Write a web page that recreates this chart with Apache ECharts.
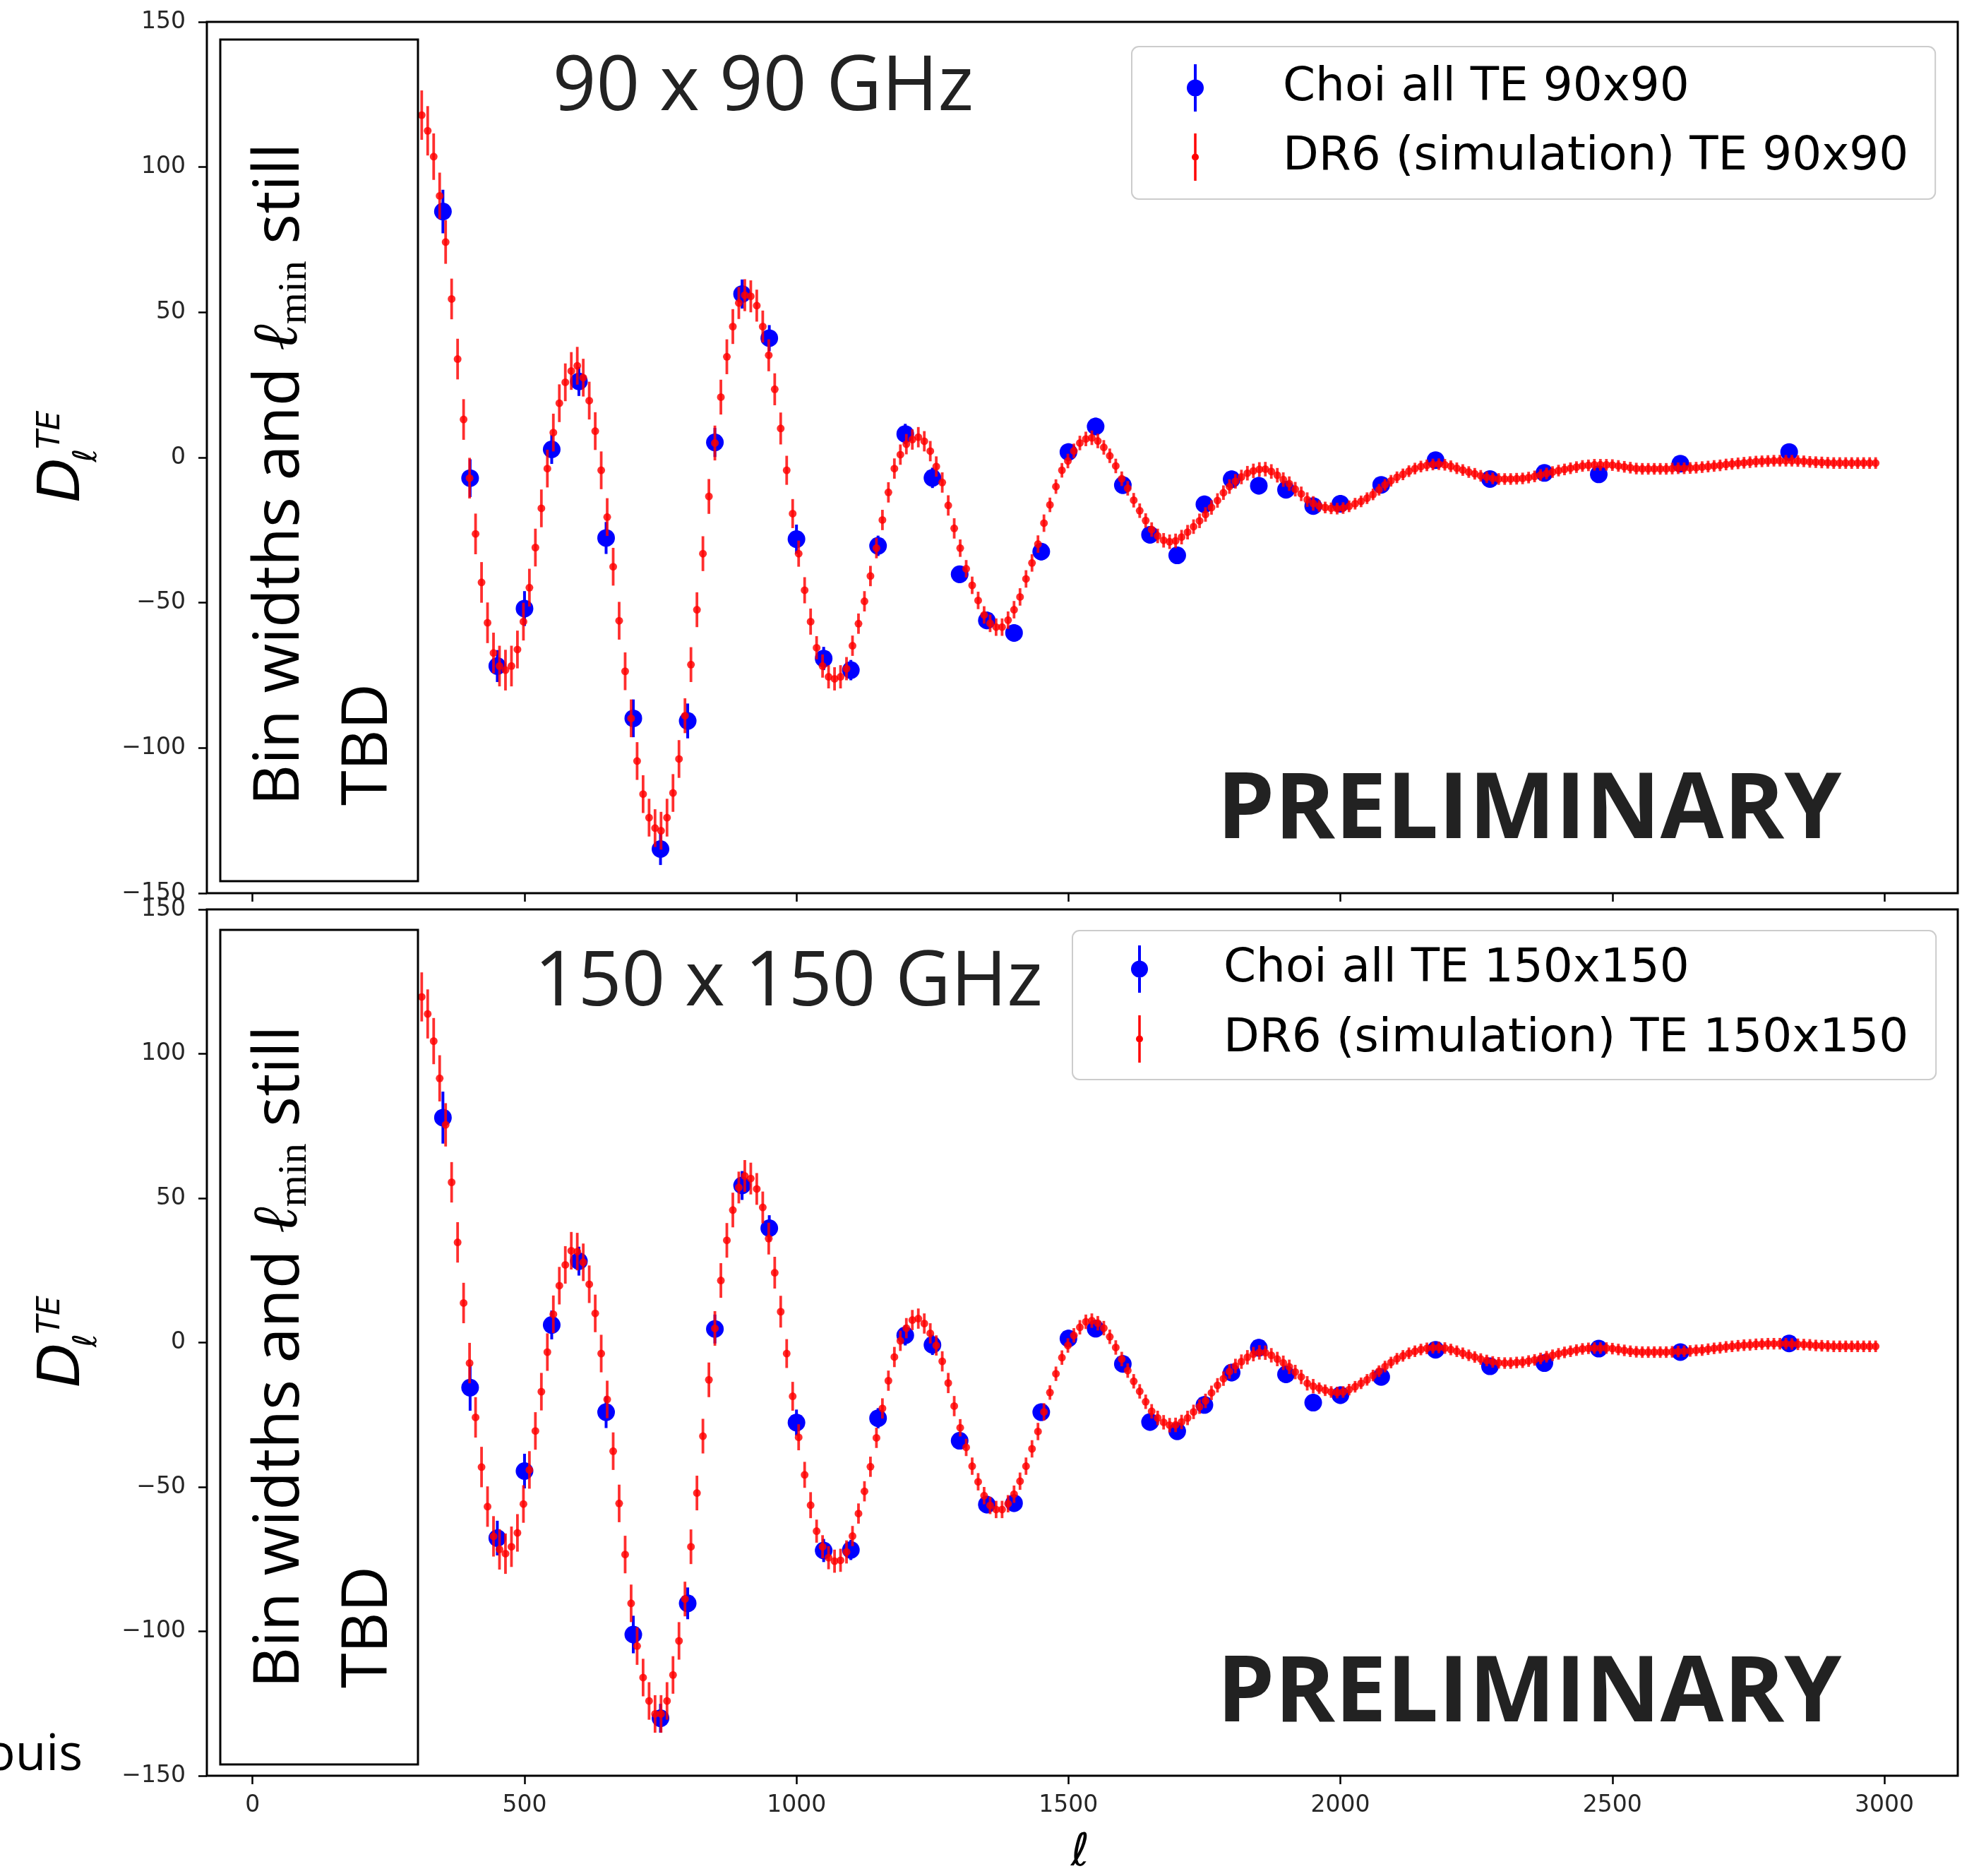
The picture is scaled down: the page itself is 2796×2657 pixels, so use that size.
<!DOCTYPE html>
<html><head><meta charset="utf-8">
<script src="https://cdn.jsdelivr.net/npm/echarts@6.0.0/dist/echarts.min.js"></script>
<style>html,body{margin:0;padding:0;background:#fff}#c{width:2796px;height:2657px}</style>
</head><body><div id="c"></div><script>
// ---------------- DATA ----------------
const xTickValues = [0, 500, 1000, 1500, 2000, 2500, 3000];
const panelTitles = ['90 x 90 GHz', '150 x 150 GHz'];
const legendNames90 = ['Choi all TE 90x90', 'DR6 (simulation) TE 90x90'];
const legendNames150 = ['Choi all TE 150x150', 'DR6 (simulation) TE 150x150'];

// Choi (blue) points: [ell, D_ell, error]
const choi90 = [
 [350,84.7,7.5],[400,-7.1,6.5],[450,-71.8,5.5],[500,-52.0,6],[550,2.8,5],[600,26.2,5],[650,-27.7,5.5],
 [700,-89.8,6.5],[750,-134.8,5.5],[800,-90.7,6],[850,5.2,5],[900,56.3,5],[950,41.1,4.5],[1000,-28.1,5],
 [1050,-69.2,4],[1100,-73.2,3.5],[1150,-30.4,3.5],[1200,8.1,3.5],[1250,-7.0,3.5],[1300,-40.2,3],[1350,-56.1,3],
 [1400,-60.4,3],[1450,-32.4,3],[1500,1.9,3],[1550,10.7,3],[1600,-9.5,3],[1650,-26.6,3],[1700,-33.7,3],
 [1750,-16.1,3],[1800,-7.5,3],[1850,-9.7,3],[1900,-11.1,3],[1950,-16.7,3],[2000,-15.9,3],
 [2075,-9.4,2.5],[2175,-0.9,2.5],[2275,-7.4,2.5],[2375,-5.3,2.5],[2475,-5.8,2.5],[2625,-2.1,2.5],[2825,1.9,2.5]
];
const choi150 = [
 [350,77.9,9],[400,-15.6,8],[450,-67.7,6],[500,-44.5,6],[550,6.1,5],[600,28.2,5],[650,-24.1,5.5],
 [700,-101.1,6.5],[750,-130.1,5],[800,-90.3,5.5],[850,4.7,5],[900,54.4,5],[950,39.6,4.5],[1000,-27.7,4.5],
 [1050,-72.0,4],[1100,-71.8,3.5],[1150,-26.2,3.5],[1200,2.5,3.5],[1250,-0.8,3.5],[1300,-34.0,3],[1350,-56.1,3],
 [1400,-55.6,3],[1450,-24.1,3],[1500,1.4,3],[1550,4.8,3],[1600,-7.4,3],[1650,-27.5,3],[1700,-30.7,3],
 [1750,-21.6,3],[1800,-10.4,3],[1850,-1.8,3],[1900,-11.0,3],[1950,-20.8,3],[2000,-18.2,3],
 [2075,-11.9,2.5],[2175,-2.5,2.5],[2275,-8.2,2.5],[2375,-7.1,2.5],[2475,-2.1,2.5],[2625,-3.3,2.5],[2825,-0.3,2.5]
];

// DR6 simulation (red) bins
const dr6Ell = [
 311,322,333,344,355,366,377,388,399,410,
 421,432,443,454,465,476,487,498,509,520,
 531,542,553,564,575,586,597,608,619,630,
 641,652,663,674,685,696,707,718,729,740,
 751,762,773,784,795,806,817,828,839,850,
 861,872,883,894,905,916,927,938,949,960,
 971,982,993,1004,1015,1026,1037,1048,1059,1070,
 1081,1092,1103,1114,1125,1136,1147,1158,1169,1180,
 1191,1202,1213,1224,1235,1246,1257,1268,1279,1290,
 1301,1312,1323,1334,1345,1356,1367,1378,1389,1400,
 1411,1422,1433,1444,1455,1466,1477,1488,1499,1510,
 1521,1532,1543,1554,1565,1576,1587,1598,1609,1620,
 1631,1642,1653,1664,1675,1686,1697,1708,1719,1730,
 1741,1752,1763,1774,1785,1796,1807,1818,1829,1840,
 1851,1862,1873,1884,1895,1906,1917,1928,1939,1950,
 1961,1972,1983,1994,2005,2016,2027,2038,2049,2060,
 2071,2082,2093,2104,2115,2126,2137,2148,2159,2170,
 2181,2192,2203,2214,2225,2236,2247,2258,2269,2280,
 2291,2302,2313,2324,2335,2346,2357,2368,2379,2390,
 2401,2412,2423,2434,2445,2456,2467,2478,2489,2500,
 2511,2522,2533,2544,2555,2566,2577,2588,2599,2610,
 2621,2632,2643,2654,2665,2676,2687,2698,2709,2720,
 2731,2742,2753,2764,2775,2786,2797,2808,2819,2830,
 2841,2852,2863,2874,2885,2896,2907,2918,2929,2940,
 2951,2962,2973,2984
];
const dr6Val90 = [
 117.9,112.5,103.6,90.1,74.2,54.6,33.9,13.1,-7.1,-26.3,
 -43.0,-56.9,-67.3,-71.8,-73.2,-71.8,-66.1,-56.5,-44.8,-31.0,
 -17.5,-3.8,8.6,18.7,25.9,29.8,31.6,27.5,19.6,9.1,
 -4.4,-20.5,-37.6,-56.2,-73.6,-89.8,-104.5,-115.9,-124.0,-127.6,
 -128.5,-124.0,-115.5,-103.8,-88.9,-71.3,-52.4,-33.1,-13.4,5.0,
 20.8,34.7,45.1,53.2,55.9,55.5,52.3,45.1,35.2,23.5,
 10.0,-4.4,-19.3,-33.1,-45.7,-56.5,-65.5,-71.8,-75.5,-76.2,
 -75.5,-72.7,-64.8,-57.2,-49.5,-40.8,-31.2,-21.5,-12.0,-3.8,
 1.0,4.6,6.2,7.0,5.6,2.2,-3.1,-8.6,-16.5,-24.4,
 -31.2,-38.3,-44.0,-49.2,-54.2,-57.1,-58.4,-58.4,-56.0,-52.4,
 -48.0,-41.8,-36.3,-29.8,-22.6,-16.3,-10.0,-4.4,-1.2,2.3,
 5.0,6.4,6.8,5.7,3.5,0.6,-2.9,-7.3,-10.6,-14.7,
 -18.3,-21.7,-24.8,-27.0,-28.5,-29.0,-28.7,-27.4,-25.7,-23.8,
 -21.8,-19.6,-17.2,-14.8,-12.1,-10.0,-8.2,-6.7,-5.4,-4.6,
 -4.1,-4.0,-4.8,-6.1,-7.6,-9.0,-10.9,-12.5,-14.5,-15.8,
 -16.7,-17.2,-17.5,-17.6,-17.4,-16.8,-15.9,-15.1,-14.0,-12.7,
 -11.1,-9.4,-8.0,-6.8,-5.8,-4.7,-3.8,-3.1,-2.7,-2.4,
 -2.3,-2.5,-3.0,-3.7,-4.3,-5.0,-5.6,-6.3,-6.8,-7.2,
 -7.4,-7.4,-7.4,-7.3,-7.2,-6.9,-6.5,-6.0,-5.5,-5.0,
 -4.5,-4.1,-3.7,-3.3,-2.9,-2.7,-2.5,-2.5,-2.5,-2.6,
 -2.9,-3.2,-3.5,-3.8,-3.9,-3.9,-3.9,-3.9,-3.9,-3.8,
 -3.7,-3.7,-3.6,-3.5,-3.3,-3.1,-2.9,-2.7,-2.4,-2.2,
 -2.0,-1.8,-1.6,-1.4,-1.3,-1.2,-1.1,-1.1,-1.1,-1.1,
 -1.2,-1.3,-1.5,-1.6,-1.7,-1.8,-1.9,-1.9,-1.9,-1.9,
 -1.9,-1.9,-1.9,-1.9
];
const dr6Val150 = [
 119.7,113.8,104.4,91.5,75.4,55.5,34.7,13.7,-7.1,-25.9,
 -43.1,-56.8,-67.1,-71.6,-73.1,-70.7,-65.9,-55.9,-44.1,-30.6,
 -17.0,-3.3,9.8,19.7,26.9,31.8,31.5,27.8,20.2,10.1,
 -3.8,-19.7,-37.6,-55.7,-73.4,-90.3,-105.1,-116.0,-124.1,-128.6,
 -128.6,-124.1,-115.1,-103.3,-88.8,-70.7,-52.1,-32.4,-12.9,4.9,
 21.5,35.4,45.9,53.7,57.7,56.8,53.2,46.8,36.0,24.2,
 10.7,-3.8,-18.6,-32.8,-45.8,-56.3,-65.3,-70.7,-74.5,-75.7,
 -75.4,-72.5,-67.0,-59.2,-51.5,-43.0,-33.0,-22.8,-13.2,-5.0,
 0.6,5.0,7.8,8.3,6.6,3.2,-1.0,-6.5,-14.0,-22.0,
 -29.5,-36.3,-42.8,-48.2,-53.0,-56.4,-57.8,-57.8,-55.8,-52.5,
 -48.0,-42.8,-36.8,-30.8,-24.0,-17.3,-10.8,-5.2,-1.0,2.5,
 5.3,7.2,7.6,6.7,5.0,2.0,-1.7,-5.7,-9.7,-13.4,
 -16.9,-20.5,-23.8,-26.1,-27.6,-28.6,-28.5,-27.5,-26.1,-24.0,
 -22.2,-20.2,-17.4,-14.8,-12.5,-10.0,-8.1,-6.6,-5.1,-4.0,
 -3.4,-3.5,-4.4,-5.7,-7.0,-8.4,-10.2,-11.9,-14.1,-15.1,
 -15.8,-16.5,-17.1,-17.3,-17.1,-16.3,-15.3,-14.1,-12.9,-11.4,
 -9.9,-8.3,-6.9,-5.6,-4.6,-3.7,-3.0,-2.4,-2.0,-1.8,
 -1.7,-1.9,-2.4,-3.0,-3.7,-4.4,-5.0,-5.7,-6.2,-6.7,
 -7.0,-7.1,-7.1,-6.9,-6.8,-6.4,-6.0,-5.5,-4.9,-4.4,
 -3.9,-3.4,-3.0,-2.6,-2.2,-2.0,-1.9,-1.9,-1.9,-2.1,
 -2.4,-2.7,-3.0,-3.2,-3.3,-3.3,-3.3,-3.3,-3.3,-3.2,
 -3.1,-3.0,-2.9,-2.7,-2.6,-2.3,-2.0,-1.8,-1.5,-1.3,
 -1.1,-0.9,-0.8,-0.6,-0.5,-0.4,-0.4,-0.4,-0.4,-0.5,
 -0.6,-0.7,-0.8,-1.0,-1.1,-1.2,-1.3,-1.3,-1.3,-1.3,
 -1.3,-1.3,-1.3,-1.3
];
const dr6Err = [
 8.5,8.5,8.0,8.0,7.5,7.0,7.0,7.0,7.0,7.0,
 7.0,7.0,7.0,7.0,7.0,7.0,6.5,6.5,6.5,6.5,
 6.5,6.5,6.5,6.5,6.5,6.5,6.5,6.5,6.5,6.5,
 6.5,6.5,6.5,6.5,6.5,6.5,6.5,6.5,6.5,6.5,
 6.5,6.5,6.5,6.5,6.0,6.0,6.0,6.0,6.0,6.0,
 6.0,6.0,6.0,5.5,5.5,5.5,5.5,5.5,5.5,5.5,
 5.5,5.0,5.0,4.5,4.5,4.5,4.0,4.0,4.0,4.0,
 4.0,4.0,3.5,3.5,3.5,3.5,3.5,3.5,3.5,3.5,
 3.5,3.5,3.5,3.5,3.5,3.5,3.5,3.5,3.5,3.5,
 3.0,3.0,3.0,3.0,3.0,3.0,3.0,3.0,3.0,3.0,
 3.0,3.0,3.0,3.0,3.0,2.5,2.5,2.5,2.5,2.5,
 2.5,2.5,2.5,2.5,2.5,2.5,2.5,2.5,2.5,2.5,
 2.5,2.5,2.5,2.5,2.5,2.5,2.5,2.5,2.5,2.5,
 2.5,2.5,2.5,2.5,2.5,2.5,2.5,2.5,2.5,2.5,
 2.5,2.5,2.5,2.5,2.5,2.5,2.5,2.5,2.5,2.5,
 2.0,2.0,2.0,2.0,2.0,2.0,2.0,2.0,2.0,2.0,
 2.0,2.0,2.0,2.0,2.0,2.0,2.0,2.0,2.0,2.0,
 2.0,2.0,2.0,2.0,2.0,2.0,2.0,2.0,2.0,2.0,
 2.0,2.0,2.0,2.0,2.0,2.0,2.0,2.0,2.0,2.0,
 2.0,2.0,2.0,2.0,2.0,2.0,2.0,2.0,2.0,2.0,
 2.0,2.0,2.0,2.0,2.0,2.0,2.0,2.0,2.0,2.0,
 2.0,2.0,2.0,2.0,2.0,2.0,2.0,2.0,2.0,2.0,
 2.0,2.0,2.0,2.0,2.0,2.0,2.0,2.0,2.0,2.0,
 2.0,2.0,2.0,2.0,2.0,2.0,2.0,2.0,2.0,2.0,
 2.0,2.0,2.0,2.0
];

// ---------------- CHART ----------------
const BLUE = '#0000ff';
const RED = 'rgba(255,0,0,0.82)';
const BLUE_ICON = 'path://M10,0 H14 V22 H10 Z M10,45 H14 V67 H10 Z M0,33.5 A12,12 0 1,1 24,33.5 A12,12 0 1,1 0,33.5 Z';
const RED_ICON = 'path://M7,33.5 A5,5 0 1,1 17,33.5 A5,5 0 1,1 7,33.5 Z M10.25,0 H13.75 V29 H10.25 Z M10.25,38 H13.75 V67 H10.25 Z';

const dr6Data90 = dr6Ell.map((l, i) => [l, dr6Val90[i], dr6Err[i]]);
const dr6Data150 = dr6Ell.map((l, i) => [l, dr6Val150[i], dr6Err[i]]);

function errSeries(name, data, idx, color, lw, r, z) {
  return {
    type: 'custom', name, xAxisIndex: idx, yAxisIndex: idx, data, z, silent: true,
    itemStyle: { color }, encode: { x: 0, y: 1 },
    renderItem: (params, api) => {
      const x = api.value(0), y = api.value(1), e = api.value(2);
      const p = api.coord([x, y]);
      const hi = api.coord([x, y + e]);
      const lo = api.coord([x, y - e]);
      return { type: 'group', children: [
        { type: 'line', shape: { x1: p[0], y1: hi[1], x2: p[0], y2: lo[1] }, style: { stroke: color, lineWidth: lw } },
        { type: 'circle', shape: { cx: p[0], cy: p[1], r }, style: { fill: color } }
      ]};
    }
  };
}

const tickFont = { fontFamily: 'DejaVu Sans', fontSize: 33, color: '#262626' };
function xAxisCfg(i) {
  return {
    type: 'value', gridIndex: i, min: -84, max: 3135,
    axisLine: { show: false, onZero: false }, splitLine: { show: false },
    axisTick: { show: true, length: 12, customValues: xTickValues, lineStyle: { color: '#000', width: 2.5 } },
    axisLabel: Object.assign({ show: i === 1, customValues: xTickValues, margin: 26, formatter: v => String(v) }, tickFont)
  };
}
function yAxisCfg(i) {
  return {
    type: 'value', gridIndex: i, min: -150, max: 150, interval: 50,
    axisLine: { show: false, onZero: false }, splitLine: { show: false },
    axisTick: { show: true, length: 12, lineStyle: { color: '#000', width: 2.5 } },
    axisLabel: Object.assign({ margin: 30, formatter: v => String(v).replace('-', '\u2212') }, tickFont)
  };
}
function legendCfg(names, left, top, padding, gap, fontSize, textPad) {
  return {
    orient: 'vertical', left, top, padding, itemGap: gap, itemWidth: 24, itemHeight: 67,
    backgroundColor: 'rgba(255,255,255,0.8)', borderColor: '#cccccc', borderWidth: 2, borderRadius: 10,
    selectedMode: false, symbolKeepAspect: true,
    textStyle: { fontFamily: 'DejaVu Sans', fontSize, color: '#000', lineHeight: 67, padding: [0, 0, 0, textPad] },
    data: [
      { name: names[0], icon: BLUE_ICON, itemStyle: { color: BLUE } },
      { name: names[1], icon: RED_ICON, itemStyle: { color: '#ff0000' } }
    ]
  };
}

const PI2 = Math.PI / 2;
function yLabel(dy) {
  return [
    { type: 'text', x: 91, y: 680 + dy, rotation: PI2, style: { text: 'D', font: 'italic 82px "DejaVu Sans"', fill: '#000', align: 'center', verticalAlign: 'middle' } },
    { type: 'text', x: 73, y: 609 + dy, rotation: PI2, style: { text: 'TE', font: 'italic 44px "DejaVu Sans"', fill: '#000', align: 'center', verticalAlign: 'middle' } },
    { type: 'text', x: 124, y: 645 + dy, rotation: PI2, style: { text: '\u2113', font: 'italic 46px "DejaVu Sans"', fill: '#000', align: 'center', verticalAlign: 'middle' } }
  ];
}
function noteBox(y, h, textY) {
  return [
    { type: 'rect', shape: { x: 312, y, width: 280, height: h }, style: { fill: '#fff', stroke: '#000', lineWidth: 3 }, z: 50 },
    { type: 'group', x: 0, y: textY, rotation: PI2, z: 51, children: [
      { type: 'text', x: 0, y: 397, z: 51, style: {
        text: '{a|Bin widths and }{l|\u2113}{s|min}{a| still}', align: 'left', verticalAlign: 'middle',
        rich: {
          a: { font: '400 90px "Open Sans"', fill: '#000', lineHeight: 100, verticalAlign: 'middle' },
          l: { font: 'italic 90px "DejaVu Serif"', fill: '#000', lineHeight: 100, verticalAlign: 'middle' },
          s: { font: '400 58px "Liberation Serif"', fill: '#000', lineHeight: 34, verticalAlign: 'bottom' }
        } } },
      { type: 'text', x: 0, y: 522, z: 51, style: { text: 'TBD', font: '400 90px "Open Sans"', fill: '#000', align: 'left', verticalAlign: 'middle' } }
    ]}
  ];
}

const option = {
  animation: false,
  backgroundColor: '#ffffff',
  grid: [
    { left: 293, top: 31, width: 2480, height: 1234, show: true, borderColor: '#000', borderWidth: 3, backgroundColor: 'transparent' },
    { left: 293, top: 1288, width: 2480, height: 1227, show: true, borderColor: '#000', borderWidth: 3, backgroundColor: 'transparent' }
  ],
  xAxis: [xAxisCfg(0), xAxisCfg(1)],
  yAxis: [yAxisCfg(0), yAxisCfg(1)],
  legend: [
    legendCfg(legendNames90, 1603, 66, [25, 38, 26, 78], 31, 66, 107),
    legendCfg(legendNames150, 1519, 1318, [21, 39, 24, 83], 32, 66, 102)
  ],
  series: [
    errSeries(legendNames90[0], choi90, 0, BLUE, 4, 12.5, 2),
    errSeries(legendNames90[1], dr6Data90, 0, RED, 3.8, 5.5, 3),
    errSeries(legendNames150[0], choi150, 1, BLUE, 4, 12.5, 2),
    errSeries(legendNames150[1], dr6Data150, 1, RED, 3.8, 5.5, 3)
  ],
  graphic: [].concat(
    noteBox(56, 1192, 1141),
    noteBox(1317, 1182, 2391),
    yLabel(0), yLabel(1253.5),
    [
      { type: 'text', x: 1081, y: 125, z: 60, style: { text: panelTitles[0], font: '400 108px "Open Sans"', fill: '#222', align: 'center', verticalAlign: 'middle' } },
      { type: 'text', x: 1117, y: 1393, z: 60, style: { text: panelTitles[1], font: '400 108px "Open Sans"', fill: '#222', align: 'center', verticalAlign: 'middle' } },
      { type: 'text', x: 2166, y: 1150, z: 60, style: { text: 'PRELIMINARY', font: 'bold 130px "Open Sans"', fill: '#222', align: 'center', verticalAlign: 'middle' } },
      { type: 'text', x: 2166, y: 2401, z: 60, style: { text: 'PRELIMINARY', font: 'bold 130px "Open Sans"', fill: '#222', align: 'center', verticalAlign: 'middle' } },
      { type: 'text', x: 1530, y: 2625, style: { text: '\u2113', font: 'italic 64px "DejaVu Sans"', fill: '#000', align: 'center', verticalAlign: 'middle' } },
      { type: 'text', x: 117, y: 2487, style: { text: 'ouis', font: '400 71px "Open Sans"', fill: '#000', align: 'right', verticalAlign: 'middle' } }
    ]
  )
};

const chart = echarts.init(document.getElementById('c'), null, { renderer: 'canvas' });
chart.setOption(option);
</script></body></html>
